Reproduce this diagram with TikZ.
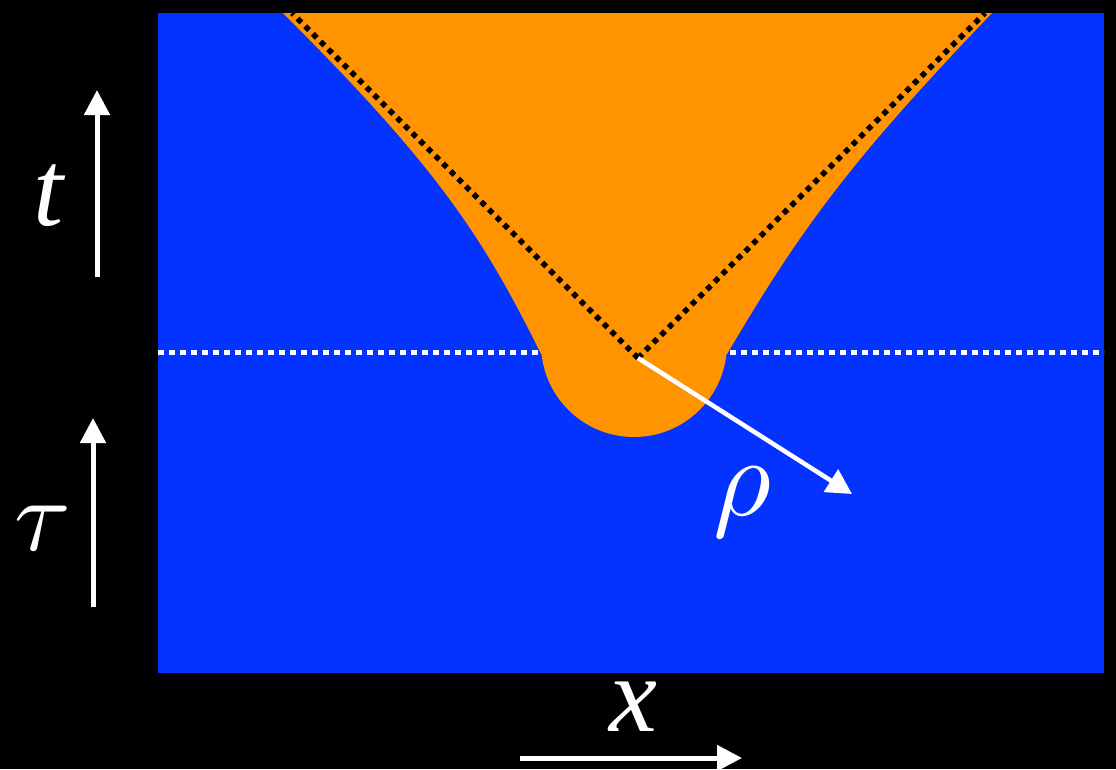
\documentclass[tikz,border=0pt]{standalone}
\usepackage{fontspec}
\setmainfont{Liberation Serif}
\usetikzlibrary{arrows.meta}
\definecolor{fieldblue}{RGB}{4,51,255}
\definecolor{conorange}{RGB}{255,147,0}
\begin{document}
\begin{tikzpicture}[x=1pt,y=-1pt,
  axisarrow/.style={draw=white,line width=5pt,-{Triangle[width=25pt,length=25pt]}},
  rhoarrow/.style={draw=white,line width=4.5pt,-{Triangle[width=26pt,length=25pt]}},
  lbl/.style={text=white,inner sep=0pt,font=\fontsize{108}{120}\selectfont\itshape},
  glbl/.style={text=white,inner sep=0pt,font=\fontsize{10}{12}\selectfont,scale=11.2},
  whitedots/.style={draw=white,line width=5pt,dash pattern=on 5.5pt off 5.5pt},
  blackdots/.style={draw=black,line width=5.5pt,dash pattern=on 5.5pt off 5.3pt},
  conefill/.style={fill=conorange}]
\useasboundingbox (0,0) rectangle (1116,769);
\fill[black] (0,0) rectangle (1116,769);
\fill[fieldblue] (158,13) rectangle (1104,673);
% horizontal dotted line
\coordinate (hl) at (158,352);
\coordinate (hr) at (1104,352);
\draw[whitedots] (hl) -- (hr);
\begin{scope}
\clip (158,13) rectangle (1104,673);
\fill[conefill] (541,354) .. controls (481,232) and (433,163) .. (283,13)
  -- (992,13) .. controls (848,163) and (799,232) .. (727,354) -- cycle;
\fill[conefill] (634,344) circle[radius=93];
\coordinate (apex) at (638,358);
\coordinate (lt) at (292,13);
\coordinate (rt) at (985,13);
\draw[blackdots] (apex) -- (lt);
\draw[blackdots] (apex) -- (rt);
\end{scope}
% rho arrow
\coordinate (rhotip) at (852,494);
\draw[rhoarrow] (apex) -- (rhotip);
\node[glbl] (rholab) at (742,502) {$\rho$};
% axis arrows
\coordinate (tb) at (97,277);
\coordinate (tt) at (97,90);
\draw[axisarrow] (tb) -- (tt);
\node[lbl] (tlab) at (49,196) {t};
\coordinate (taub) at (93,607);
\coordinate (taut) at (93,418);
\draw[axisarrow] (taub) -- (taut);
\node[glbl,scale=0.92] (taulab) at (43,528) {$\tau$};
\coordinate (xl) at (520,758);
\coordinate (xr) at (742,758);
\draw[axisarrow] (xl) -- (xr);
\node[lbl] (xlab) at (633,707) {x};
\end{tikzpicture}
\end{document}
